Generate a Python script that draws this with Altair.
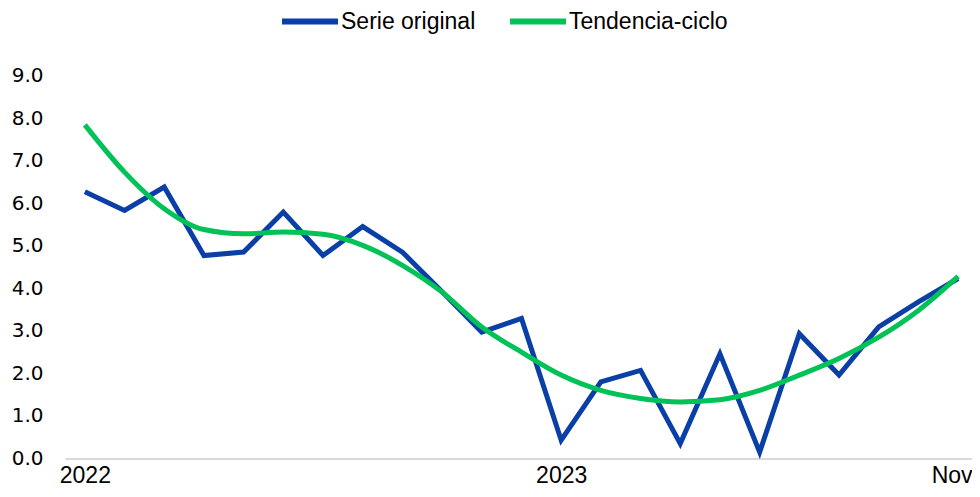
import altair as alt
import pandas as pd

idx = list(range(23))
serie_original = [6.27, 5.83, 6.38, 4.77, 4.85, 5.79, 4.77, 5.45, 4.85, 3.92, 2.97,
                  3.29, 0.43, 1.80, 2.07, 0.35, 2.46, 0.15, 2.93, 1.96, 3.09, 3.68, 4.23]
tendencia = [7.84, 6.73, 5.87, 5.38, 5.28, 5.32, 5.27, 5.01, 4.54, 3.91, 3.09,
             2.50, 1.96, 1.60, 1.41, 1.33, 1.38, 1.60, 1.96, 2.35, 2.85, 3.48, 4.28]
series_names = ["Serie original", "Tendencia-ciclo"]
series_colors = ["#0B3FA8", "#00C257"]
tick_positions = [0, 12, 22]
tick_labels = ["2022", "2023", "Nov"]

df = pd.DataFrame({
    "i": idx * 2,
    "v": serie_original + tendencia,
    "s": [series_names[0]] * 23 + [series_names[1]] * 23,
    "o": [0] * 23 + [1] * 23,
})

label_expr = " : ".join(
    [f"datum.value == {p} ? '{l}'" for p, l in zip(tick_positions, tick_labels)]
) + " : ''"

x = alt.X("i:Q", scale=alt.Scale(domain=[-0.5, 22.35], nice=False, zero=False),
          axis=alt.Axis(values=tick_positions, labelExpr=label_expr, title=None,
                        grid=False, ticks=False, tickSize=0, domain=True,
                        domainColor="#D9D9D9", domainWidth=2,
                        labelFont="Liberation Sans", labelFontSize=23,
                        labelColor="#000000", labelPadding=6, labelFlush=False,
                        labelAlign=alt.ExprRef(expr="datum.value == 22 ? 'right' : 'center'"),
                        labelOffset=alt.ExprRef(expr="datum.value == 22 ? 14 : 0")))
y = alt.Y("v:Q", scale=alt.Scale(domain=[0, 9], nice=False),
          axis=alt.Axis(values=list(range(10)), format=".1f", title=None,
                        grid=False, ticks=False, domain=False,
                        labelFont="DejaVu Sans", labelFontSize=20,
                        labelColor="#000000", labelPadding=22))
color = alt.Color("s:N", scale=alt.Scale(domain=series_names, range=series_colors),
                  legend=alt.Legend(title=None, orient="none", direction="horizontal",
                                    legendX=214, legendY=-85,
                                    symbolType="stroke", symbolSize=3136,
                                    symbolStrokeWidth=6, labelFont="Liberation Sans",
                                    labelFontSize=23, labelColor="#000000",
                                    labelOffset=0, columnPadding=22, padding=0))

chart = alt.Chart(df).mark_line(strokeWidth=5, strokeJoin="miter").encode(
    x=x, y=y, color=color, order=alt.Order("i:Q"),
).transform_filter("datum.o == 0")

green = alt.Chart(df).mark_line(strokeWidth=5, interpolate="monotone").encode(
    x=x, y=y, color=color, order=alt.Order("i:Q"),
).transform_filter("datum.o == 1")

final = alt.layer(chart, green).properties(
    width=907, height=383,
    autosize=alt.AutoSizeParams(type="none"),
    padding={"left": 57, "top": 67.5, "right": 0, "bottom": 30.5},
).configure_view(stroke=None)

final.save("out.html", embed_options={"renderer": "svg", "actions": False})
